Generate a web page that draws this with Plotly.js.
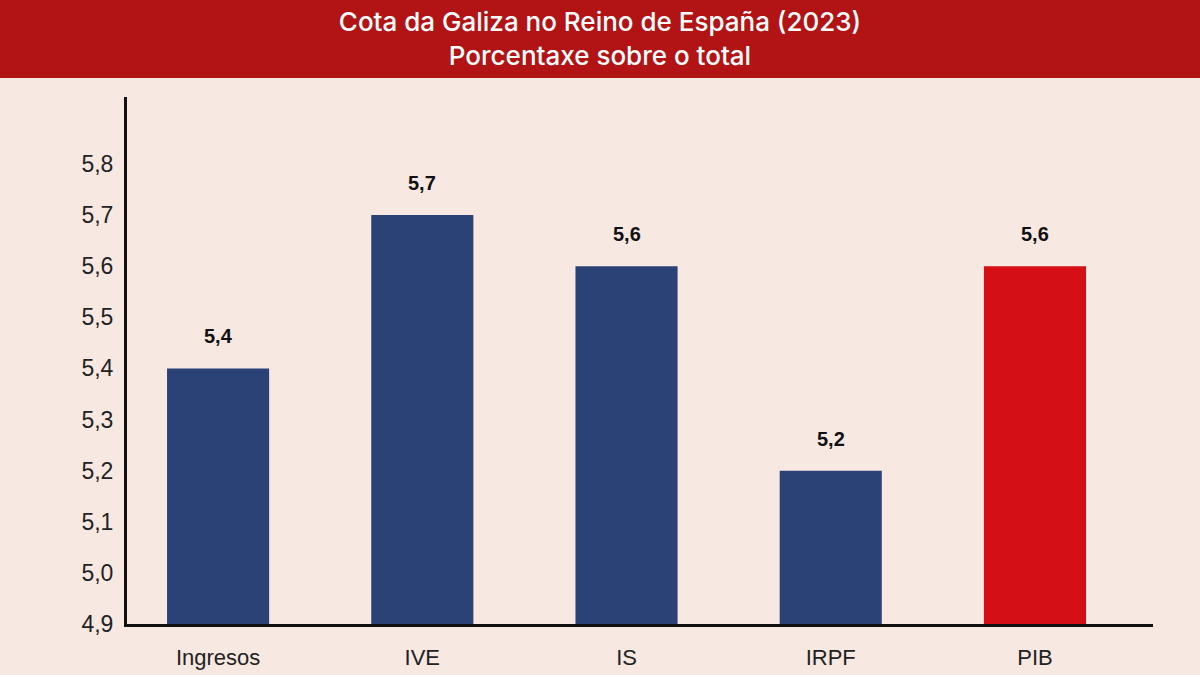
<!DOCTYPE html>
<html>
<head>
<meta charset="utf-8">
<script src="https://cdn.plot.ly/plotly-3.0.1.min.js"></script>
<style>
  html, body { margin: 0; padding: 0; background: #f8e8e2; }
  #chart { width: 1200px; height: 675px; }
</style>
</head>
<body>
<div id="chart"></div>
<script>
const categories = ['Ingresos', 'IVE', 'IS', 'IRPF', 'PIB'];
const shares = [5.4, 5.7, 5.6, 5.2, 5.6];
const barColors = ['#2b4277', '#2b4277', '#2b4277', '#2b4277', '#d41016'];
const yTicks = [4.9, 5.0, 5.1, 5.2, 5.3, 5.4, 5.5, 5.6, 5.7, 5.8];

const BANNER = '#b21416';
const BG = '#f8e8e2';
const AXIS_FONT = 'Liberation Sans, Arial, sans-serif';

// Comma decimal, as in the source graphic
const fmt = v => v.toFixed(1).replace('.', ',');

// y axis is truncated at 4.9, bars simply run off the bottom edge
const trace = {
  type: 'bar',
  x: categories,
  y: shares,
  marker: { color: barColors },
  width: 0.5,
  hoverinfo: 'x+y',
};

const labels = categories.map((c, i) => ({
  x: c,
  y: shares[i],
  text: fmt(shares[i]),
  showarrow: false,
  yanchor: 'bottom',
  yshift: 19,
  font: { family: AXIS_FONT, size: 20, color: '#111', weight: 'bold' },
}));

Plotly.newPlot('chart', [trace], {
  width: 1200,
  height: 675,
  paper_bgcolor: BG,
  plot_bgcolor: BG,
  margin: { t: 97, l: 127, r: 47, b: 51 },
  title: {
    text: 'Cota da Galiza no Reino de España (2023)<br>Porcentaxe sobre o total',
    font: { family: 'Inter, Roboto, sans-serif', size: 26, color: '#fff', weight: 500 },
    x: 0.5,
    xref: 'container',
    y: 1 - 31 / 675,
    yref: 'container',
    yanchor: 'middle',
  },
  shapes: [{
    type: 'rect',
    xref: 'paper', yref: 'paper',
    x0: -0.2, x1: 1.1,
    y0: (624 - 78) / 527, y1: 1.3,
    fillcolor: BANNER,
    line: { width: 0 },
    layer: 'below',
  }],
  annotations: labels,
  xaxis: {
    range: [-0.446, 4.578],
    showline: true,
    linewidth: 3,
    linecolor: '#111',
    showgrid: false,
    ticks: 'outside',
    ticklen: 12,
    tickcolor: 'rgba(0,0,0,0)',
    tickfont: { family: AXIS_FONT, size: 22, color: '#222' },
    fixedrange: true,
  },
  yaxis: {
    range: [4.9, 5.931],
    tickmode: 'array',
    tickvals: yTicks,
    ticktext: yTicks.map(fmt),
    showline: true,
    linewidth: 3,
    linecolor: '#111',
    showgrid: false,
    zeroline: false,
    ticks: 'outside',
    ticklen: 6,
    tickcolor: 'rgba(0,0,0,0)',
    tickfont: { family: AXIS_FONT, size: 23, color: '#222' },
    fixedrange: true,
  },
  showlegend: false,
}, { displayModeBar: false, staticPlot: true });
</script>
</body>
</html>
